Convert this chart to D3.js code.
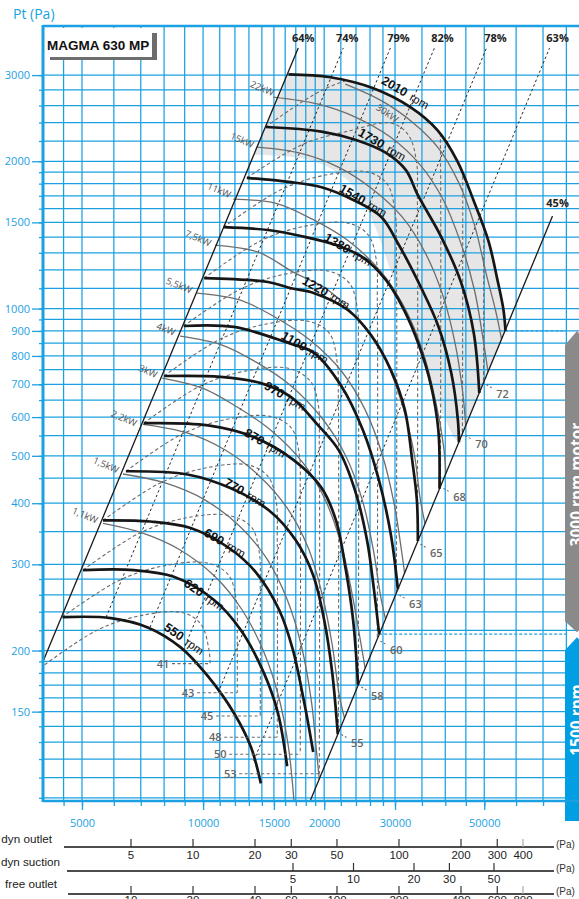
<!DOCTYPE html>
<html>
<head>
<meta charset="utf-8">
<title>MAGMA 630 MP</title>
<script src="https://cdn.jsdelivr.net/npm/d3@7/dist/d3.min.js"></script>
<style>
  html, body { margin: 0; padding: 0; background: #fff; }
  svg { display: block; }
</style>
</head>
<body>
<svg id="chart" width="579" height="899"></svg>
<script>
// ---------- axis values ----------
const qGrid = [4500,5000,6000,7000,8000,9000,10000,11000,12000,13000,14000,15000,16000,17000,18000,19000,20000,22000,24000,26000,28000,30000,35000,40000,45000,50000,60000,70000,80000];
const qLabels = [5000,10000,15000,20000,30000,50000];
const pGrid = [100,110,120,130,140,150,160,170,180,190,200,220,240,260,280,300,350,400,450,500,550,600,650,700,750,800,850,900,950,1000,1100,1200,1300,1400,1500,1600,1700,1800,1900,2000,2200,2400,2600,2800,3000];
const pLabels = [150,200,300,400,500,600,700,800,900,1000,1500,2000,3000];

// ---------- fan speed curves [airflow m3/h, total pressure Pa] ----------
const rpm550  = [[4474,234],[5900,233],[7285,223],[8795,203],[10290,177],[11930,149],[13150,127],[13920,107]];
const rpm620  = [[5030,292],[6725,292],[8460,283],[10630,254],[12420,220],[14160,180],[15350,149],[16180,116]];
const rpm690  = [[5640,369],[7400,367],[9310,356],[11600,324],[13530,289],[15460,242],[16710,201],[17800,158],[18570,131],[18780,124]];
const rpm770  = [[6430,465],[9150,458],[11730,429],[14570,387],[17000,336],[18780,285],[20000,231],[20930,181],[21620,135]];
const rpm870  = [[7120,583],[10290,577],[13370,546],[16800,490],[19660,431],[21400,369],[22640,292],[23600,231],[24280,170]];
const rpm970  = [[8000,728],[11060,725],[13920,704],[16550,659],[19330,577],[21750,513],[23860,425],[25560,336],[26600,266],[27400,216]];
const rpm1100 = [[8950,921],[11930,917],[16300,850],[18900,811],[22000,697],[24970,564],[27360,446],[29300,345],[30500,267]];
const rpm1220 = [[10060,1154],[14500,1133],[16550,1100],[18900,1075],[22900,993],[26150,883],[29300,749],[31750,620],[33100,490],[34000,406],[34200,335]];
const rpm1380 = [[11250,1467],[14500,1447],[17500,1407],[21400,1348],[25100,1268],[28500,1143],[31600,993],[34400,842],[36850,697],[38450,564],[38700,428]];
const rpm1540 = [[12850,1850],[16300,1815],[19700,1770],[23700,1665],[27700,1540],[30500,1360],[34800,1105],[38500,917],[41400,738],[43000,591],[43250,533]];
const rpm1730 = [[14300,2350],[19700,2300],[24000,2210],[28500,2080],[31900,1920],[34200,1705],[39100,1400],[43800,1130],[47100,890],[48600,672]];
const rpm2010 = [[16300,3010],[20710,2970],[26500,2820],[32760,2580],[38240,2316],[42890,2000],[47010,1665],[51230,1374],[53940,1143],[55830,992],[56470,900]];
const speeds = [550,620,690,770,870,970,1100,1220,1380,1540,1730,2010];
const speedLabelAt = [[7950,221],[8920,272],[10000,344],[11220,436],[12580,551],[14110,687],[15550,870],[17540,1127],[19900,1380],[21690,1738],[24180,2262],[27590,2889]];

// ---------- absorbed power lines ----------
const kw1_1 = [[5640,364],[6970,349],[8770,321],[10720,283],[12510,242],[14110,200],[15380,162],[16280,128],[16850,97]];
const kw1_5 = [[6320,459],[8050,440],[10120,406],[12370,358],[14440,307],[16190,254],[17540,205],[18580,158],[19150,124],[19450,109]];
const kw2_2 = [[7090,580],[9130,557],[11350,514],[13710,457],[16190,391],[18260,324],[19780,260],[20950,205],[21810,162],[22470,145.5]];
const kw3   = [[7910,721],[10000,687],[12160,629],[14690,565],[17740,483],[20130,406],[22060,329],[23490,260],[24600,210],[25280,184]];
const kw4   = [[8770,878],[11150,842],[13550,777],[16470,697],[19780,596],[22570,502],[24880,406],[26500,321],[27590,260],[28400,232]];
const kw5_5 = [[9660,1075],[12370,1040],[15110,960],[18470,861],[22190,741],[25310,620],[27900,502],[29890,397],[31120,321],[31690,288]];
const kw7_5 = [[10720,1348],[13710,1304],[16760,1187],[20480,1090],[24600,937],[28390,784],[31290,635],[33520,502],[34690,406],[35640,363]];
const kw11  = [[11880,1673],[15110,1642],[18680,1523],[22830,1380],[27590,1193],[31650,1006],[35090,822],[37810,650],[39580,526],[40160,460]];
const kw15  = [[13630,2138],[17440,2078],[21690,1946],[26350,1755],[31290,1537],[35700,1298],[39580,1055],[42400,842],[44130,681],[44970,576]];
const kw22  = [[14940,2704],[19340,2616],[23900,2462],[29210,2241],[34690,1964],[39580,1665],[43630,1367],[47280,1090],[49490,882],[51090,742]];
const kw30  = [[22570,2875],[27590,2666],[33140,2404],[38470,2128],[43140,1813],[47280,1481],[50640,1171],[53330,992],[55200,866]];
const kwNames = ['1,1kW','1,5kW','2,2kW','3kW','4kW','5,5kW','7,5kW','11kW','15kW','22kW','30kW'];
const kwLabelAt = [[5090,378],[5740,479],[6360,597],[7300,745],[8090,908],[8720,1116],[9720,1393],[10960,1746],[12510,2209],[14030,2822],[28710,2509]];

// ---------- efficiency lines ----------
const eff64 = [[4000,190],[17240,3408]];
const eff74 = [[5740,234],[22310,3408]];
const eff79 = [[7380,223],[29210,3408]];
const eff82 = [[8920,200],[37590,3408]];
const eff78 = [[10900,164],[50640,3408]];
const eff63 = [[13360,119],[72660,3408]];
const eff45 = [[17950,93.2],[73900,1545]];
const effNames = ['64%','74%','79%','82%','78%','63%'];
const effLabelQ = [17740,22830,30590,39350,53330,76080];
const effLabelP = 3573;
const eff45LabelAt = [76080,1642];

// ---------- sound level lines, dB(A) ----------
const snd41 = [[3930,184],[5450,220],[7050,236],[8920,239],[9890,226],[10350,200],[10410,188]];
const snd43 = [[4460,234],[6180,278],[8000,298],[10230,302],[11540,286],[12090,254],[12160,210],[12160,164]];
const snd45 = [[5030,292],[6970,348],[9020,373],[11540,378],[13170,358],[13790,318],[13870,268],[13870,147]];
const snd48 = [[5640,369],[7820,440],[10120,472],[12950,479],[14520,453],[15200,403],[15290,334],[15290,133]];
const snd50 = [[6430,465],[8870,554],[11480,594],[14690,602],[16570,570],[17340,504],[17440,420],[17440,122.7]];
const snd53 = [[7120,583],[9830,694],[12730,745],[16280,755],[18470,711],[19340,635],[19450,526],[19450,112]];
const snd55 = [[8000,728],[11030,866],[14270,929],[18260,942],[20590,891],[21560,773],[21690,656],[21690,136]];
const snd58 = [[8950,921],[12370,1095],[16000,1176],[20480,1193],[23100,1127],[24180,1002],[24320,830],[24320,170]];
const snd60 = [[10060,1154],[13870,1374],[17950,1474],[22960,1495],[25750,1413],[26960,1256],[27110,1040],[27110,211]];
const snd63 = [[11250,1467],[15550,1746],[20130,1874],[25750,1900],[28710,1796],[30060,1559],[30240,1323],[30240,262]];
const snd65 = [[12850,1850],[17740,2168],[22960,2305],[29380,2393],[32390,2262],[33910,2001],[34100,1665],[34100,333]];
const snd68 = [[14300,2350],[19780,2795],[25600,3000],[32760,3043],[36950,2875],[38690,2497],[38910,2118],[38910,433]];
const snd70 = [[16300,3010],[22570,3590],[29210,3853],[37380,3908],[41920,3693],[43890,3281],[44130,2717],[44130,555]];
const snd72 = [[18470,3853],[25600,4590],[33140,4928],[42400,4998],[47280,4722],[49490,4156],[49780,3441],[49780,705]];
const soundDb = [41,43,45,48,50,53,55,58,60,63,65,68,70,72];
const soundLeftLabelQ = [7950,9180,10230,10720,11030,11680];

// ---------- 3000 rpm motor zone ----------
const shadeEdge = [[13400,2059],[17440,2030],[20710,1936],[23230,1805],[25310,1627],[27270,1413],[29210,1198],[31830,992],[34690,822],[38240,650],[41920,546]];
const motorSplitP = [900,216];
const motorSplitQ = [56470,27400];

// ---------- dynamic pressure scales (Pa) ----------
const dynOutletTicks = [5,10,20,30,50,100,200,300,400];
const dynSuctionTicks = [5,10,20,30,50];
const freeOutletTicks = [10,20,40,60,100,200,400,600,800];

// ================= drawing =================
const svg = d3.select('#chart');
const PL = {l: 43, r: 579, t: 26, b: 801};
const x = d3.scaleLog().domain([4000, 86000]).range([PL.l, PL.r]);
const y = d3.scaleLog().domain([98.5, 3780]).range([PL.b, PL.t]);

const BLUE = '#1ba1e2';
const SANS = "'Open Sans', 'Noto Sans', sans-serif";
const ARIAL = "'Liberation Sans', Arial, sans-serif";

svg.append('rect').attr('width', 579).attr('height', 899).attr('fill', '#fff');

const smooth = d3.line().x(d => x(d[0])).y(d => y(d[1])).curve(d3.curveCatmullRom.alpha(0.5));
const straight = d3.line().x(d => x(d[0])).y(d => y(d[1]));

const defs = svg.append('defs');
defs.append('clipPath').attr('id', 'plotClip').append('rect')
  .attr('x', PL.l).attr('y', PL.t).attr('width', PL.r - PL.l).attr('height', PL.b - PL.t);
// operating envelope: stall line, top speed curve, 45% limit
const envD = smooth(rpm2010)
  + 'L' + x(eff45[0][0]) + ',' + y(eff45[0][1])
  + 'L' + PL.l + ',' + (PL.b + 20)
  + 'L' + x(eff64[0][0]) + ',' + y(eff64[0][1]) + 'Z';
defs.append('clipPath').attr('id', 'envClip').append('path').attr('d', envD);

const plot = svg.append('g').attr('clip-path', 'url(#plotClip)');

// shaded zone: under the 2010 rpm curve, right of the 1500 rpm limit
const last1540 = rpm1540[rpm1540.length - 1];
const shadeD = smooth(rpm2010)
  + 'L' + x(last1540[0]) + ',' + y(last1540[1])
  + smooth(shadeEdge.slice().reverse()).replace(/^M/, 'L')
  + 'Z';
plot.append('path').attr('d', shadeD).attr('fill', '#e6e6e6');

// grid
plot.append('g').selectAll('line').data(qGrid).join('line')
  .attr('x1', d => x(d)).attr('x2', d => x(d)).attr('y1', PL.t).attr('y2', PL.b)
  .attr('stroke', BLUE).attr('stroke-width', 1.25);
plot.append('g').selectAll('line').data(pGrid).join('line')
  .attr('x1', PL.l).attr('x2', PL.r).attr('y1', d => y(d)).attr('y2', d => y(d))
  .attr('stroke', BLUE).attr('stroke-width', 1.25);

// motor change markers
plot.append('g').selectAll('line').data(motorSplitP).join('line')
  .attr('x1', (d, i) => x(motorSplitQ[i])).attr('x2', 566)
  .attr('y1', d => y(d)).attr('y2', d => y(d))
  .attr('stroke', BLUE).attr('stroke-width', 1.3).attr('stroke-dasharray', '3,2');

// efficiency lines
[eff74, eff79, eff82, eff78, eff63].forEach(l => {
  plot.append('path').attr('d', straight(l)).attr('fill', 'none')
    .attr('stroke', '#2a2a2a').attr('stroke-width', 1).attr('stroke-dasharray', '2.5,2.5');
});

// sound level lines, kept inside the operating envelope
const soundArcs = [snd41, snd43, snd45, snd48, snd50, snd53, snd55, snd58, snd60, snd63, snd65, snd68, snd70, snd72];
const soundG = plot.append('g').attr('clip-path', 'url(#envClip)');
soundArcs.forEach(a => {
  soundG.append('path').attr('d', smooth(a)).attr('fill', 'none')
    .attr('stroke', '#6a6a6a').attr('stroke-width', 1.1).attr('stroke-dasharray', '3.5,2.5');
});

// power lines
const kwLines = [kw1_1, kw1_5, kw2_2, kw3, kw4, kw5_5, kw7_5, kw11, kw15, kw22, kw30];
kwLines.forEach(l => {
  plot.append('path').attr('d', smooth(l)).attr('fill', 'none')
    .attr('stroke', '#6e6e6e').attr('stroke-width', 1.3);
});

// limit lines
[eff64, eff45].forEach(l => {
  plot.append('path').attr('d', straight(l)).attr('fill', 'none')
    .attr('stroke', '#1a1a1a').attr('stroke-width', 1.3);
});

// speed curves
const speedCurves = [rpm550, rpm620, rpm690, rpm770, rpm870, rpm970, rpm1100, rpm1220, rpm1380, rpm1540, rpm1730, rpm2010];
speedCurves.forEach(c => {
  plot.append('path').attr('d', smooth(c)).attr('fill', 'none')
    .attr('stroke', '#161616').attr('stroke-width', 2.7).attr('stroke-linecap', 'butt');
});

// ---- labels inside the plot ----
const labels = svg.append('g');

// speed labels
speeds.forEach((s, i) => {
  const [q, p] = speedLabelAt[i];
  const ang = i < 2 ? 35 : 30;
  const t = labels.append('text')
    .attr('transform', `translate(${x(q)},${y(p)}) rotate(${ang})`)
    .attr('font-family', ARIAL).attr('fill', '#111');
  t.append('tspan').attr('font-weight', 'bold').attr('font-size', 12.5).text(s);
  t.append('tspan').attr('dx', 5).attr('font-size', 11.5).text('rpm');
});

// power labels
kwNames.forEach((n, i) => {
  const [q, p] = kwLabelAt[i];
  labels.append('text')
    .attr('transform', `translate(${x(q)},${y(p)}) rotate(${i === 10 ? 35 : 23})`)
    .attr('text-anchor', 'middle').attr('dominant-baseline', 'central')
    .attr('font-family', SANS).attr('font-size', 9.5).attr('fill', '#555')
    .text(n);
});

// efficiency labels
effNames.forEach((n, i) => {
  labels.append('text')
    .attr('x', x(effLabelQ[i])).attr('y', y(effLabelP)).attr('dy', '0.35em')
    .attr('text-anchor', 'middle').attr('font-family', SANS).attr('font-weight', 'bold')
    .attr('font-size', 11).attr('fill', '#222').text(n);
});
labels.append('text')
  .attr('x', x(eff45LabelAt[0])).attr('y', y(eff45LabelAt[1])).attr('dy', '0.35em')
  .attr('text-anchor', 'middle').attr('font-family', SANS).attr('font-weight', 'bold')
  .attr('font-size', 11).attr('fill', '#222').text('45%');

// sound level labels
soundDb.forEach((db, i) => {
  const arc = soundArcs[i];
  const end = arc[arc.length - 1];
  const ex = x(end[0]), ey = y(end[1]);
  if (i < soundLeftLabelQ.length) {
    const lx = x(soundLeftLabelQ[i]);
    labels.append('line').attr('x1', lx + 9).attr('x2', ex).attr('y1', ey).attr('y2', ey)
      .attr('stroke', '#6a6a6a').attr('stroke-width', 1.1).attr('stroke-dasharray', '3,2.5');
    labels.append('text').attr('x', lx).attr('y', ey).attr('dy', '0.35em')
      .attr('text-anchor', 'middle').attr('font-family', SANS).attr('font-weight', 600)
      .attr('font-size', 11).attr('fill', '#666').text(db);
  } else {
    labels.append('line').attr('x1', ex + 3).attr('x2', ex + 10).attr('y1', ey + 2).attr('y2', ey + 6)
      .attr('stroke', '#6a6a6a').attr('stroke-width', 1.1).attr('stroke-dasharray', '2,2');
    labels.append('text').attr('x', ex + 19).attr('y', ey + 11).attr('dy', '0.35em')
      .attr('text-anchor', 'middle').attr('font-family', SANS).attr('font-weight', 600)
      .attr('font-size', 11).attr('fill', '#666').text(db);
  }
});

// ---- title box ----
svg.append('rect').attr('x', 50).attr('y', 33).attr('width', 107).attr('height', 27).attr('fill', '#6d6d6d');
svg.append('rect').attr('x', 44).attr('y', 28).attr('width', 108).attr('height', 29).attr('fill', '#fff');
svg.append('text').attr('x', 47).attr('y', 49.5).attr('font-family', ARIAL).attr('font-weight', 'bold')
  .attr('font-size', 13.5).attr('fill', '#111').text('MAGMA 630 MP');

// ---- motor bars ----
const gTop = y(motorSplitP[0]), gBot = y(motorSplitP[1]);
svg.append('path')
  .attr('d', `M565,${gTop + 14}L577,${gTop}L589,${gTop + 14}L589,${gBot - 13}L577,${gBot - 2}L565,${gBot - 13}Z`)
  .attr('fill', '#8a8a8a');
svg.append('path')
  .attr('d', `M565,${gBot + 16}L577,${gBot + 3}L589,${gBot + 16}L589,${PL.b + 20}L565,${PL.b + 20}Z`)
  .attr('fill', '#009ee2');
svg.append('text').attr('transform', `translate(576,${(gTop + gBot) / 2 + 2}) rotate(-90)`)
  .attr('text-anchor', 'middle').attr('dominant-baseline', 'central')
  .attr('font-family', SANS).attr('font-weight', 'bold').attr('font-size', 15.5).attr('fill', '#fff')
  .text('3000 rpm motor');
svg.append('text').attr('transform', `translate(576,720) rotate(-90)`)
  .attr('text-anchor', 'middle').attr('dominant-baseline', 'central')
  .attr('font-family', SANS).attr('font-weight', 'bold').attr('font-size', 15.5).attr('fill', '#fff')
  .text('1500 rpm');

// ---- frame and axes ----
svg.append('line').attr('x1', PL.l).attr('x2', PL.r).attr('y1', PL.t).attr('y2', PL.t)
  .attr('stroke', BLUE).attr('stroke-width', 2.5);
svg.append('line').attr('x1', PL.l).attr('x2', PL.r).attr('y1', PL.b).attr('y2', PL.b)
  .attr('stroke', BLUE).attr('stroke-width', 2.5);
svg.append('line').attr('x1', PL.l).attr('x2', PL.l).attr('y1', PL.t - 1).attr('y2', PL.b + 1)
  .attr('stroke', BLUE).attr('stroke-width', 3);

function styleAxis(g) {
  g.select('.domain').remove();
  g.selectAll('.tick line').attr('stroke', BLUE).attr('stroke-width', 1.3);
  g.selectAll('.tick text').attr('fill', BLUE).attr('font-family', SANS).attr('font-size', 11);
}
svg.append('g').attr('transform', `translate(${PL.l},0)`)
  .call(d3.axisLeft(y).tickValues(pGrid).tickSize(4).tickFormat(''))
  .call(styleAxis);
svg.append('g').attr('transform', `translate(${PL.l},0)`)
  .call(d3.axisLeft(y).tickValues(pLabels).tickSize(11).tickPadding(2).tickFormat(d3.format('d')))
  .call(styleAxis);
svg.append('g').attr('transform', `translate(0,${PL.b})`)
  .call(d3.axisBottom(x).tickValues(qGrid).tickSize(5).tickFormat(''))
  .call(styleAxis);
svg.append('g').attr('transform', `translate(0,${PL.b})`)
  .call(d3.axisBottom(x).tickValues(qLabels).tickSize(9).tickPadding(9).tickFormat(d3.format('d')))
  .call(styleAxis);

svg.append('text').attr('x', 13).attr('y', 18.5).attr('font-family', SANS).attr('font-size', 14)
  .attr('fill', BLUE).text('Pt (Pa)');

// ---- dynamic pressure scales ----
const dynOutlet = d3.scaleLog().domain([5, 400]).range([131, 523]);
const dynSuction = d3.scaleLog().domain([5, 50]).range([293, 494]);
const freeOutlet = d3.scaleLog().domain([10, 800]).range([131, 523]);

function pressureScale(name, scale, ticks, lineY, x0, nameX, nameY, labelY) {
  const g = svg.append('g');
  g.append('text').attr('x', nameX).attr('y', nameY).attr('text-anchor', 'end')
    .attr('font-family', ARIAL).attr('font-size', 11.7).attr('fill', '#222').text(name);
  g.append('line').attr('x1', x0).attr('x2', 554).attr('y1', lineY).attr('y2', lineY)
    .attr('stroke', '#111').attr('stroke-width', 1.3);
  g.append('text').attr('x', 556).attr('y', lineY + 1).attr('font-family', ARIAL)
    .attr('font-size', 10).attr('fill', '#333').text('(Pa)');
  ticks.forEach((t, i) => {
    const faint = i === ticks.length - 1 && ticks.length > 5;
    g.append('line').attr('x1', scale(t)).attr('x2', scale(t)).attr('y1', lineY - 8).attr('y2', lineY)
      .attr('stroke', faint ? '#aaa' : '#333').attr('stroke-width', 1.2);
    g.append('text').attr('x', scale(t)).attr('y', labelY).attr('text-anchor', 'middle')
      .attr('font-family', ARIAL).attr('font-size', 11.5).attr('fill', '#222').text(t);
  });
}
pressureScale('dyn outlet', dynOutlet, dynOutletTicks, 847, 64, 52, 843, 859);
pressureScale('dyn suction', dynSuction, dynSuctionTicks, 871, 67, 60, 866, 883);
pressureScale('free outlet', freeOutlet, freeOutletTicks, 894, 68, 57, 888, 904);
</script>
</body>
</html>
